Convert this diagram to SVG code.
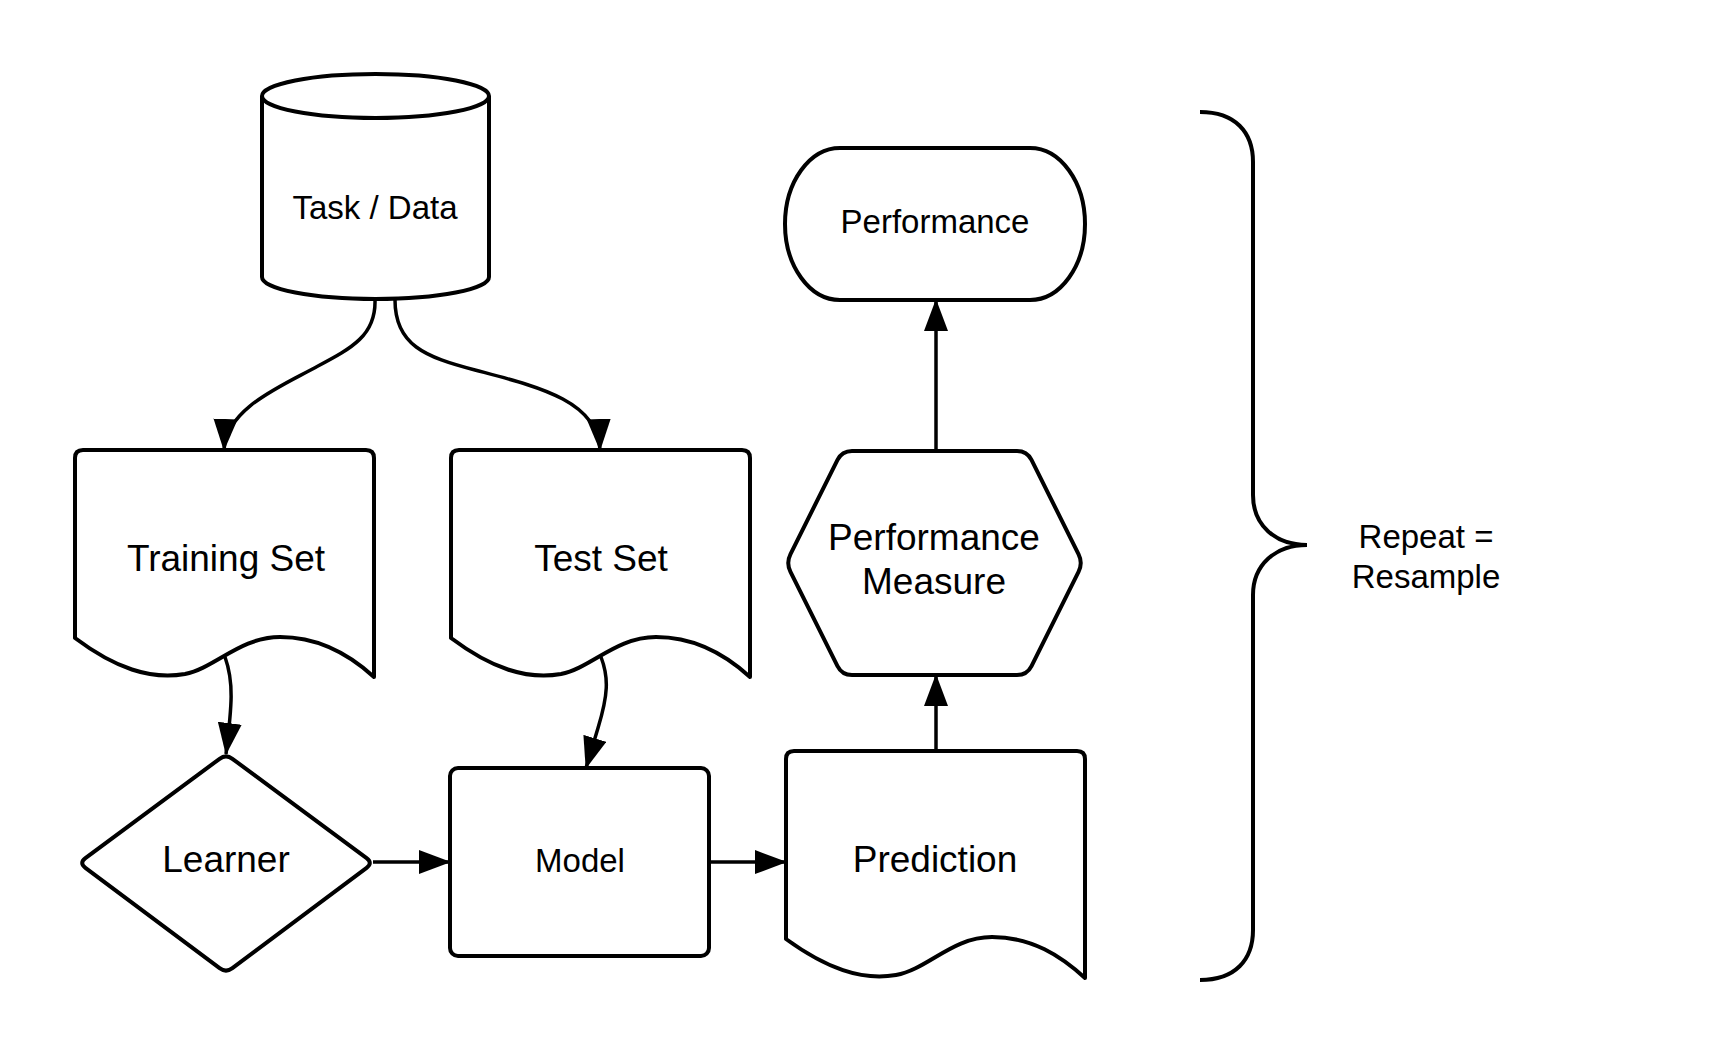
<svg xmlns="http://www.w3.org/2000/svg" width="1725" height="1050" viewBox="0 0 1725 1050">
  <style>
    .shape { fill: #ffffff; stroke: #000000; stroke-width: 4; stroke-linejoin: round; }
    .conn { fill: none; stroke: #000000; stroke-width: 3.5; marker-end: url(#arrow); }
    .brace { fill: none; stroke: #000000; stroke-width: 4; }
    .lbl { font-family: "Liberation Sans", Arial, sans-serif; fill: #000000; text-anchor: middle; }
    .big { font-size: 37px; }
    .small { font-size: 33px; }
  </style>
  <defs>
    <marker id="arrow" markerUnits="userSpaceOnUse" markerWidth="32" markerHeight="24" refX="31" refY="12" orient="auto">
      <path d="M0,0 L32,12 L0,24 z" fill="#000000"/>
    </marker>
  </defs>
  <rect x="0" y="0" width="1725" height="1050" fill="#ffffff"/>

  <g id="connectors">
    <path class="conn" d="M375,300 C376,335 352,348 318,366 C282,386 226,408 224,450"/>
    <path class="conn" d="M395,300 C395,345 425,357 475,370 C535,386 598,400 600,450"/>
    <path class="conn" d="M225,657 C234,682 232,705 226,754"/>
    <path class="conn" d="M601,657 C609,678 608,695 598,728 L586,768"/>
    <path class="conn" d="M373,862 L450,862"/>
    <path class="conn" d="M709,862 L786,862"/>
    <path class="conn" d="M936,751 L936,675"/>
    <path class="conn" d="M936,451 L936,300"/>
  </g>

  <g id="task-data">
    <path class="shape" d="M262,96 L262,277 A113.5,22 0 0 0 489,277 L489,96"/>
    <ellipse class="shape" cx="375.5" cy="96" rx="113.5" ry="22"/>
    <text class="lbl small" x="375" y="219">Task / Data</text>
  </g>

  <g id="training-set">
    <path class="shape" d="M83,450 L366,450 Q374,450 374,458 L374,677 C350,655 320,637 280,637 C240,637 215,668 185,674 C150,680 115,668 75,638 L75,458 Q75,450 83,450 Z"/>
    <text class="lbl big" x="226" y="571">Training Set</text>
  </g>

  <g id="test-set">
    <path class="shape" d="M459,450 L742,450 Q750,450 750,458 L750,677 C726,655 696,637 656,637 C616,637 591,668 561,674 C526,680 491,668 451,638 L451,458 Q451,450 459,450 Z"/>
    <text class="lbl big" x="601" y="571">Test Set</text>
  </g>

  <g id="learner">
    <path class="shape" d="M219.6,758.8 Q226,754 232.4,758.8 L366.6,858.2 Q373,863 366.6,867.8 L232.4,968.2 Q226,973 219.6,968.2 L85.4,867.8 Q79,863 85.4,858.2 Z"/>
    <text class="lbl big" x="226" y="872">Learner</text>
  </g>

  <g id="model">
    <rect class="shape" x="450" y="768" width="259" height="188" rx="8" ry="8"/>
    <text class="lbl small" x="580" y="872">Model</text>
  </g>

  <g id="prediction">
    <path class="shape" d="M794,751 L1077,751 Q1085,751 1085,759 L1085,978 C1061,956 1032,937 992,937 C952,937 928,969 896,975 C861,981 826,968 786,939 L786,759 Q786,751 794,751 Z"/>
    <text class="lbl big" x="935" y="872">Prediction</text>
  </g>

  <g id="performance-measure">
    <path class="shape" d="M852,451 L1017,451 Q1027,451 1031.5,459.9 L1078.5,554.1 Q1083,563 1078.5,571.9 L1031.5,666.1 Q1027,675 1017,675 L852,675 Q842,675 837.5,666.1 L790.5,571.9 Q786,563 790.5,554.1 L837.5,459.9 Q842,451 852,451 Z"/>
    <text class="lbl big" x="934" y="550">Performance</text>
    <text class="lbl big" x="934" y="594">Measure</text>
  </g>

  <g id="performance">
    <rect class="shape" x="785" y="148" width="300" height="152" rx="55" ry="76"/>
    <text class="lbl small" x="935" y="233">Performance</text>
  </g>

  <g id="repeat-brace">
    <path class="brace" d="M1200,112 C1235,112 1253,132 1253,162 L1253,495 C1253,525 1275,545 1307,545 C1275,545 1253,565 1253,595 L1253,930 C1253,960 1235,980 1200,980"/>
    <text class="lbl small" x="1426" y="548">Repeat =</text>
    <text class="lbl small" x="1426" y="588">Resample</text>
  </g>
</svg>
